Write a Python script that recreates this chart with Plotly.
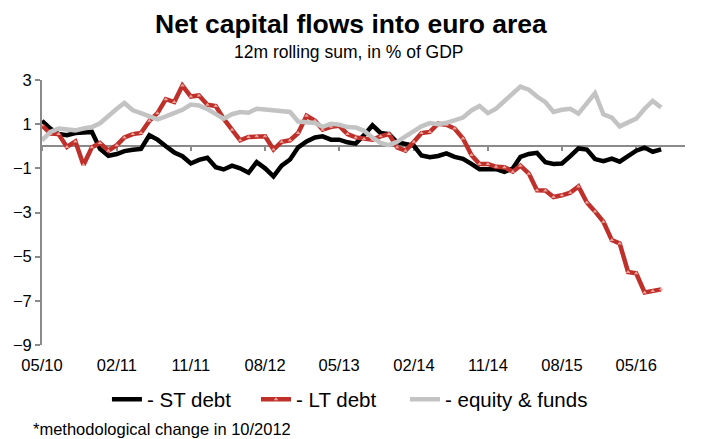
import pandas as pd
import plotly.graph_objects as go

# Monthly observations, 12m rolling sums in % of GDP
months = pd.date_range("2010-05-01", periods=76, freq="MS")

st_debt = [
    1.15, 0.80, 0.55, 0.50, 0.60, 0.62, 0.65, -0.12, -0.43, -0.35,
    -0.22, -0.16, -0.12, 0.50, 0.30, 0.00, -0.28, -0.45, -0.78, -0.62,
    -0.52, -0.95, -1.05, -0.88, -1.00, -1.20, -0.72, -1.00, -1.36, -0.88,
    -0.60, -0.05, 0.22, 0.40, 0.45, 0.30, 0.30, 0.18, 0.12, 0.50,
    0.95, 0.60, 0.55, 0.18, 0.10, 0.02, -0.42, -0.50, -0.44, -0.32,
    -0.48, -0.57, -0.80, -1.04, -1.04, -1.04, -1.16, -1.00, -0.48, -0.35,
    -0.30, -0.72, -0.80, -0.78, -0.45, -0.10, -0.15, -0.58, -0.68, -0.56,
    -0.70, -0.45, -0.20, -0.06, -0.25, -0.14,
]

lt_debt = [
    0.95, 0.57, 0.55, -0.03, 0.22, -0.85, -0.05, 0.15, -0.20, 0.05,
    0.40, 0.55, 0.60, 1.15, 1.50, 2.13, 2.00, 2.75, 2.25, 2.30,
    1.88, 1.82, 1.25, 0.75, 0.27, 0.42, 0.45, 0.45, -0.15, 0.20,
    0.27, 0.60, 1.38, 1.15, 0.75, 0.88, 0.93, 0.55, 0.40, 0.33,
    0.30, 0.45, 0.55, -0.05, -0.20, 0.20, 0.60, 0.65, 1.02, 0.97,
    0.80, 0.35, -0.40, -0.80, -0.80, -0.93, -0.95, -1.15, -0.88, -1.24,
    -1.99, -2.00, -2.30, -2.22, -2.10, -1.82, -2.55, -2.95, -3.42, -4.25,
    -4.40, -5.69, -5.75, -6.62, -6.55, -6.48,
]

equity_funds = [
    0.27, 0.65, 0.80, 0.78, 0.72, 0.80, 0.87, 1.04, 1.40, 1.70,
    1.96, 1.63, 1.50, 1.35, 1.22, 1.35, 1.48, 1.65, 1.89, 1.85,
    1.68, 1.45, 1.25, 1.45, 1.55, 1.52, 1.70, 1.66, 1.63, 1.60,
    1.55, 1.12, 1.10, 1.05, 0.88, 1.02, 0.98, 0.87, 0.85, 0.70,
    0.40, 0.15, 0.05, 0.20, 0.45, 0.70, 0.90, 1.05, 1.00, 1.06,
    1.18, 1.30, 1.62, 1.82, 1.50, 1.70, 2.05, 2.40, 2.70, 2.56,
    2.25, 2.00, 1.55, 1.65, 1.70, 1.48, 1.95, 2.40, 1.45, 1.30,
    0.90, 1.08, 1.25, 1.70, 2.05, 1.75,
]

series_names = ["- ST debt", "- LT debt", "- equity & funds"]
y_ticks = [3, 1, -1, -3, -5, -7, -9]

AXIS_GREY = "#8A8A8A"
FONT = "Liberation Sans, Arial, sans-serif"
LEGEND_FONT = dict(size=20.5, family=FONT, color="#000000")

fig = go.Figure()

fig.add_trace(go.Scatter(
    x=months, y=st_debt, name=series_names[0], mode="lines",
    line=dict(color="#000000", width=4.5), legend="legend",
))
fig.add_trace(go.Scatter(
    x=months, y=lt_debt, name=series_names[1], mode="lines+markers",
    line=dict(color="#C0302B", width=4.5),
    marker=dict(symbol="triangle-up", size=4, color="rgba(240,175,170,0.9)",
                line=dict(width=0)),
    legend="legend2",
))
# equity series sits on the overlay axis that carries the zero line
fig.add_trace(go.Scatter(
    x=months, y=equity_funds, name=series_names[2], mode="lines",
    line=dict(color="#C3C3C3", width=4.5), xaxis="x2", legend="legend3",
))

x_range = ["2010-05-01", "2016-10-28"]


def legend_at(x):
    return dict(
        orientation="h", x=x, xanchor="left", y=-0.205, yanchor="middle",
        font=LEGEND_FONT, bgcolor="rgba(0,0,0,0)", borderwidth=0,
    )


fig.update_layout(
    width=707, height=439,
    margin=dict(l=42, r=22, t=80, b=94),
    paper_bgcolor="white", plot_bgcolor="white",
    font=dict(family=FONT, color="#000000"),
    showlegend=True,
    legend=legend_at(0.101),
    legend2=legend_at(0.3328),
    legend3=legend_at(0.5645),
    xaxis=dict(
        type="date", range=x_range,
        tick0="2010-05-01", dtick="M9", tickformat="%m/%y",
        showgrid=False, zeroline=False, showline=False,
        ticks="outside", ticklen=5, tickcolor="rgba(0,0,0,0)",
        tickfont=dict(size=16.5, family=FONT, color="#000000"),
    ),
    xaxis2=dict(
        type="date", range=x_range, overlaying="x",
        anchor="free", position=(9 / 12), layer="below traces",
        tick0="2010-05-01", dtick="M9",
        showgrid=False, zeroline=False, showline=True,
        linecolor=AXIS_GREY, linewidth=2,
        ticks="outside", ticklen=4, tickwidth=2, tickcolor=AXIS_GREY,
        showticklabels=False,
    ),
    yaxis=dict(
        range=[-9, 3], tickvals=y_ticks,
        showgrid=False, zeroline=False,
        showline=True, linecolor=AXIS_GREY, linewidth=2,
        ticks="outside", ticklen=5, tickwidth=2, tickcolor=AXIS_GREY,
        tickfont=dict(size=16.5, family=FONT, color="#000000"),
    ),
    annotations=[
        dict(text="<b>Net capital flows into euro area</b>", xref="paper", yref="paper",
             x=0.4806, y=1.2113, xanchor="center", yanchor="middle", showarrow=False,
             font=dict(size=26.5, family=FONT, color="#000000")),
        dict(text="12m rolling sum, in % of GDP", xref="paper", yref="paper",
             x=0.4774, y=1.1057, xanchor="center", yanchor="middle", showarrow=False,
             font=dict(size=17.5, family=FONT, color="#000000")),
        dict(text="*methodological change in 10/2012", xref="paper", yref="paper",
             x=-0.0171, y=-0.318, xanchor="left", yanchor="middle", showarrow=False,
             font=dict(size=16.5, family=FONT, color="#000000")),
    ],
)

fig.write_html("out.html")
